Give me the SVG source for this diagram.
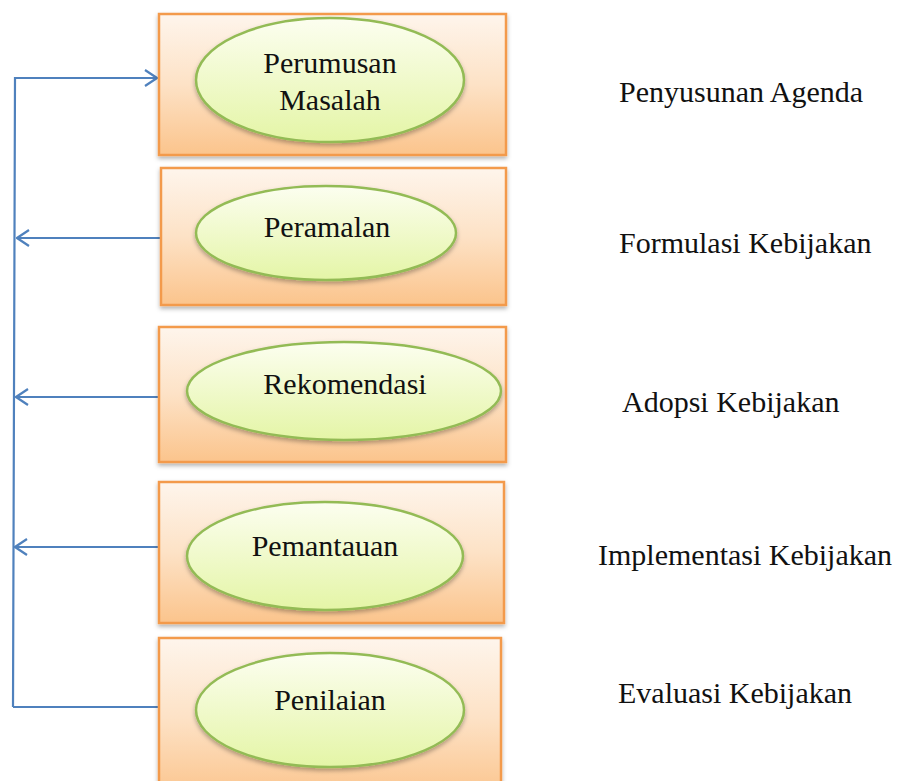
<svg xmlns="http://www.w3.org/2000/svg" width="898" height="781" viewBox="0 0 898 781">
<style>
.box{fill:url(#boxg);stroke:#f39a4c;stroke-width:2.5}
.ell{fill:url(#ellg);stroke:#93bb55;stroke-width:2.5}
.t{font-family:"Liberation Serif","Times New Roman",serif;font-size:30px;fill:#111}
.c{text-anchor:middle}
.con{fill:none;stroke:#4f81bd;stroke-width:2.2}
</style>
<defs>
<linearGradient id="boxg" x1="0" y1="0" x2="0" y2="1">
<stop offset="0" stop-color="#fef5ec"/>
<stop offset="0.5" stop-color="#fde2c6"/>
<stop offset="1" stop-color="#fbc48c"/>
</linearGradient>
<linearGradient id="ellg" x1="0" y1="0" x2="0" y2="1">
<stop offset="0" stop-color="#fcfef0"/>
<stop offset="1" stop-color="#e4f5a6"/>
</linearGradient>
<filter id="sh" x="-5%" y="-5%" width="110%" height="120%">
<feDropShadow dx="0" dy="2.5" stdDeviation="2" flood-color="#000" flood-opacity="0.3"/>
</filter>
<marker id="ah" viewBox="0 0 14 18" refX="13" refY="9" markerWidth="14" markerHeight="18" markerUnits="userSpaceOnUse" orient="auto">
<path d="M1,1 L13,9 L1,17" fill="none" stroke="#4f81bd" stroke-width="2.2"/>
</marker>
</defs>

<g id="connectors">
<path class="con" d="M13,707 L15,78 L157,78" marker-end="url(#ah)"/>
<path class="con" d="M161,238 L17,238" marker-end="url(#ah)"/>
<path class="con" d="M159,397 L16,397" marker-end="url(#ah)"/>
<path class="con" d="M161,547 L15,547" marker-end="url(#ah)"/>
<path class="con" d="M159,707 L13,707"/>
</g>

<g id="node-perumusan">
<rect class="box" x="159" y="14" width="347" height="141" filter="url(#sh)"/>
<ellipse class="ell" cx="330" cy="80" rx="134" ry="62" filter="url(#sh)"/>
<text class="t c" x="330" y="73">Perumusan</text>
<text class="t c" x="330" y="110">Masalah</text>
</g>

<g id="node-peramalan">
<rect class="box" x="161" y="168" width="345" height="137" filter="url(#sh)"/>
<ellipse class="ell" cx="326" cy="233" rx="130" ry="47" filter="url(#sh)"/>
<text class="t c" x="327" y="237">Peramalan</text>
</g>

<g id="node-rekomendasi">
<rect class="box" x="159" y="327" width="347" height="135" filter="url(#sh)"/>
<ellipse class="ell" cx="344" cy="391" rx="157" ry="49" filter="url(#sh)"/>
<text class="t c" x="345" y="394">Rekomendasi</text>
</g>

<g id="node-pemantauan">
<rect class="box" x="159" y="482" width="345" height="141" filter="url(#sh)"/>
<ellipse class="ell" cx="325" cy="556" rx="138" ry="54" filter="url(#sh)"/>
<text class="t c" x="325" y="556">Pemantauan</text>
</g>

<g id="node-penilaian">
<rect class="box" x="159" y="638" width="342" height="160" filter="url(#sh)"/>
<ellipse class="ell" cx="330" cy="710" rx="134" ry="57" filter="url(#sh)"/>
<text class="t c" x="330" y="710">Penilaian</text>
</g>

<g id="labels">
<text class="t" x="619" y="102">Penyusunan Agenda</text>
<text class="t" x="619" y="253">Formulasi Kebijakan</text>
<text class="t" x="622" y="412">Adopsi Kebijakan</text>
<text class="t" x="598" y="565">Implementasi Kebijakan</text>
<text class="t" x="618" y="703">Evaluasi Kebijakan</text>
</g>
</svg>
